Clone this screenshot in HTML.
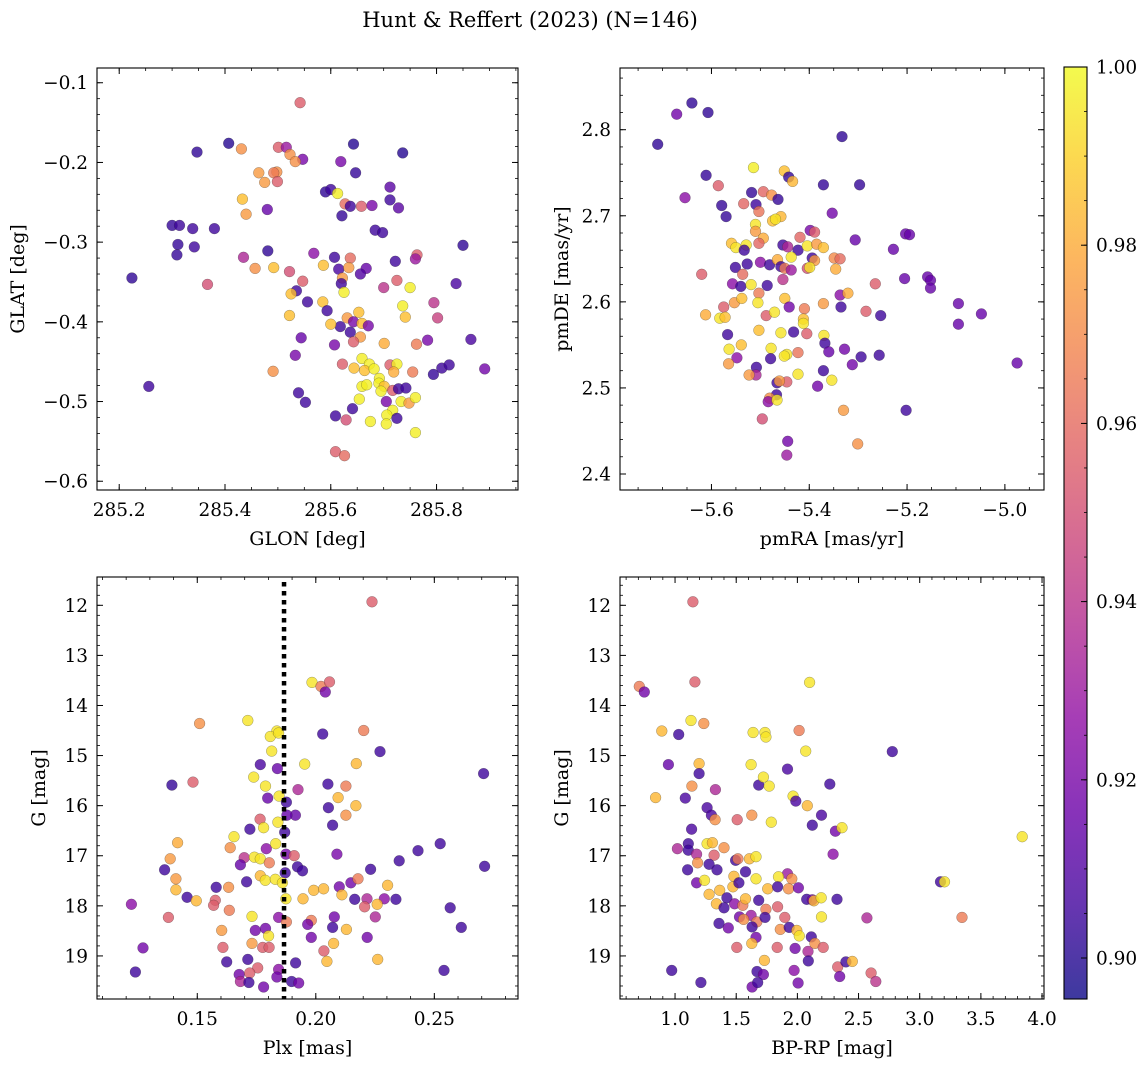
<!DOCTYPE html>
<html><head><meta charset="utf-8"><title>Hunt &amp; Reffert (2023)</title>
<style>
html,body{margin:0;padding:0;background:#fff;}
svg{display:block;font-family:"DejaVu Serif","Liberation Serif",serif;}
</style></head>
<body>
<svg id="fig" width="1148" height="1067" viewBox="0 0 1148 1067" xmlns="http://www.w3.org/2000/svg">
<rect x="0" y="0" width="1148" height="1067" fill="#fff"/>
<text x="530" y="27" font-size="21" text-anchor="middle">Hunt &amp; Reffert (2023) (N=146)</text>
</svg>
<script>
// ---------- Panel 1: GLON vs GLAT ----------
const p1Glon=[285.542,285.407,285.347,285.431,285.501,285.516,285.523,285.547,285.533,285.643,285.736,285.619,285.647,285.464,285.498,285.492,285.475,285.499,285.590,285.600,285.613,285.433,285.712,285.712,285.728,285.627,285.637,285.658,285.678,285.621,285.440,285.480,285.300,285.314,285.339,285.380,285.311,285.342,285.309,285.684,285.698,285.850,285.481,285.435,285.457,285.492,285.522,285.568,285.607,285.637,285.586,285.615,285.634,285.667,285.656,285.622,285.620,285.625,285.547,285.535,285.525,285.556,285.585,285.593,285.522,285.722,285.763,285.760,285.725,285.700,285.750,285.837,285.736,285.741,285.795,285.802,285.631,285.653,285.643,285.659,285.671,285.618,285.600,285.637,285.656,285.643,285.607,285.544,285.533,285.701,285.762,285.783,285.865,285.491,285.256,285.224,285.367,285.622,285.644,285.659,285.673,285.664,285.682,285.712,285.725,285.719,285.755,285.794,285.810,285.824,285.891,285.692,285.659,285.668,285.691,285.701,285.695,285.717,285.728,285.742,285.705,285.733,285.748,285.760,285.539,285.552,285.654,285.641,285.609,285.629,285.675,285.717,285.706,285.725,285.705,285.760,285.609,285.626];
const p1Glat=[-0.125,-0.176,-0.187,-0.183,-0.181,-0.181,-0.190,-0.196,-0.199,-0.177,-0.188,-0.199,-0.213,-0.213,-0.212,-0.213,-0.225,-0.224,-0.237,-0.234,-0.239,-0.246,-0.231,-0.247,-0.257,-0.252,-0.255,-0.255,-0.254,-0.267,-0.265,-0.259,-0.279,-0.279,-0.283,-0.283,-0.303,-0.306,-0.316,-0.285,-0.288,-0.304,-0.311,-0.319,-0.333,-0.332,-0.337,-0.314,-0.319,-0.320,-0.329,-0.334,-0.332,-0.333,-0.340,-0.345,-0.352,-0.363,-0.349,-0.361,-0.365,-0.375,-0.375,-0.386,-0.392,-0.324,-0.316,-0.321,-0.348,-0.357,-0.357,-0.352,-0.380,-0.394,-0.376,-0.395,-0.395,-0.388,-0.400,-0.402,-0.405,-0.406,-0.403,-0.413,-0.419,-0.425,-0.429,-0.420,-0.442,-0.427,-0.428,-0.423,-0.422,-0.462,-0.481,-0.345,-0.353,-0.453,-0.458,-0.446,-0.453,-0.461,-0.459,-0.454,-0.453,-0.463,-0.463,-0.466,-0.458,-0.454,-0.459,-0.471,-0.481,-0.479,-0.477,-0.481,-0.487,-0.486,-0.484,-0.483,-0.500,-0.500,-0.502,-0.495,-0.489,-0.501,-0.497,-0.509,-0.518,-0.523,-0.525,-0.511,-0.517,-0.521,-0.528,-0.539,-0.563,-0.568];
const p1Prob=[.955,.900,.902,.972,.955,.930,.972,.920,.972,.900,.900,.920,.903,.975,.972,.965,.975,.955,.902,.905,.997,.985,.912,.905,.912,.960,.905,.955,.920,.903,.975,.915,.903,.905,.905,.905,.903,.905,.903,.905,.905,.902,.902,.935,.972,.985,.950,.925,.905,.960,.985,.908,.975,.915,.910,.975,.905,.997,.955,.905,.985,.905,.985,.905,.985,.905,.955,.930,.955,.940,.997,.908,.997,.985,.940,.945,.975,.985,.920,.985,.920,.905,.985,.905,.975,.955,.920,.915,.920,.980,.965,.920,.908,.972,.905,.902,.950,.955,.985,.997,.997,.985,.997,.955,.997,.980,.965,.903,.905,.905,.918,.997,.997,.997,.997,.985,.997,.955,.905,.905,.920,.997,.975,.997,.905,.905,.997,.905,.905,.950,.997,.997,.997,.905,.997,.997,.955,.960];
const p1XTicks=[285.2,285.4,285.6,285.8];
const p1XTickLabels=["285.2","285.4","285.6","285.8"];
const p1YTicks=[-0.1,-0.2,-0.3,-0.4,-0.5,-0.6];
const p1YTickLabels=["\u22120.1","\u22120.2","\u22120.3","\u22120.4","\u22120.5","\u22120.6"];

// ---------- Panel 2: pmRA vs pmDE ----------
const p2Pmra=[-5.640,-5.671,-5.607,-5.710,-5.333,-5.514,-5.451,-5.442,-5.434,-5.611,-5.586,-5.371,-5.297,-5.654,-5.518,-5.494,-5.477,-5.464,-5.579,-5.534,-5.509,-5.503,-5.570,-5.353,-5.510,-5.458,-5.475,-5.469,-5.510,-5.494,-5.503,-5.419,-5.398,-5.389,-5.559,-5.550,-5.529,-5.533,-5.454,-5.444,-5.423,-5.404,-5.385,-5.371,-5.437,-5.306,-5.228,-5.203,-5.195,-5.500,-5.481,-5.465,-5.458,-5.450,-5.437,-5.394,-5.389,-5.404,-5.399,-5.349,-5.337,-5.346,-5.551,-5.527,-5.620,-5.536,-5.557,-5.540,-5.519,-5.486,-5.454,-5.205,-5.158,-5.152,-5.152,-5.265,-5.503,-5.337,-5.321,-5.553,-5.538,-5.505,-5.450,-5.575,-5.612,-5.583,-5.572,-5.488,-5.471,-5.441,-5.410,-5.371,-5.335,-5.284,-5.254,-5.412,-5.412,-5.095,-5.048,-5.095,-5.567,-5.503,-5.458,-5.432,-5.405,-5.370,-5.368,-5.360,-5.328,-5.294,-5.257,-5.312,-5.564,-5.539,-5.548,-5.565,-5.478,-5.479,-5.446,-5.451,-5.423,-5.508,-5.509,-5.523,-5.423,-5.371,-5.354,-5.383,-5.466,-5.446,-5.461,-5.467,-5.481,-5.484,-5.466,-5.496,-5.330,-5.202,-4.975,-5.444,-5.446,-5.301];
const p2Pmde=[2.831,2.818,2.820,2.783,2.792,2.756,2.752,2.745,2.740,2.747,2.735,2.736,2.736,2.721,2.727,2.728,2.724,2.719,2.712,2.714,2.713,2.705,2.699,2.703,2.690,2.699,2.694,2.696,2.682,2.674,2.668,2.675,2.683,2.681,2.668,2.663,2.666,2.660,2.666,2.664,2.660,2.665,2.667,2.663,2.652,2.672,2.661,2.679,2.678,2.646,2.643,2.649,2.641,2.639,2.637,2.651,2.648,2.639,2.640,2.651,2.650,2.638,2.640,2.644,2.632,2.632,2.621,2.618,2.620,2.619,2.626,2.627,2.629,2.625,2.616,2.621,2.610,2.608,2.610,2.599,2.604,2.599,2.604,2.594,2.585,2.581,2.582,2.584,2.588,2.594,2.592,2.598,2.594,2.589,2.584,2.580,2.575,2.598,2.586,2.574,2.562,2.567,2.564,2.565,2.563,2.561,2.552,2.542,2.545,2.536,2.538,2.527,2.545,2.550,2.535,2.528,2.546,2.534,2.539,2.537,2.541,2.524,2.515,2.515,2.516,2.520,2.509,2.502,2.506,2.507,2.508,2.492,2.488,2.484,2.486,2.464,2.474,2.474,2.529,2.438,2.422,2.435];
const p2Prob=[.902,.918,.902,.902,.902,.997,.985,.903,.983,.903,.955,.903,.903,.925,.903,.958,.972,.903,.903,.958,.905,.963,.903,.918,.995,.983,.985,.995,.975,.980,.958,.958,.920,.955,.985,.995,.995,.905,.905,.935,.905,.995,.975,.985,.995,.915,.915,.915,.915,.925,.905,.980,.905,.965,.930,.905,.975,.950,.995,.970,.960,.980,.905,.905,.955,.960,.925,.905,.995,.905,.940,.915,.915,.915,.915,.955,.965,.925,.980,.975,.985,.995,.985,.955,.980,.995,.985,.955,.995,.918,.965,.975,.905,.955,.905,.985,.995,.915,.915,.915,.905,.985,.995,.905,.955,.995,.905,.915,.918,.905,.905,.918,.995,.985,.925,.975,.995,.905,.995,.995,.963,.905,.935,.975,.995,.905,.995,.918,.905,.955,.975,.905,.972,.925,.995,.950,.975,.905,.915,.918,.930,.972];
const p2XTicks=[-5.6,-5.4,-5.2,-5.0];
const p2XTickLabels=["\u22125.6","\u22125.4","\u22125.2","\u22125.0"];
const p2YTicks=[2.4,2.5,2.6,2.7,2.8];
const p2YTickLabels=["2.4","2.5","2.6","2.7","2.8"];

// ---------- Panel 3: Plx vs G ----------
const p3Plx=[0.2237,0.1984,0.2022,0.2058,0.2040,0.1713,0.1510,0.1836,0.1808,0.1843,0.2029,0.2202,0.1814,0.2271,0.1766,0.1838,0.1953,0.2171,0.2708,0.1393,0.1482,0.1738,0.1788,0.1925,0.2051,0.2127,0.1797,0.1845,0.1876,0.2094,0.2169,0.2053,0.2127,0.1914,0.1878,0.1765,0.1840,0.2071,0.1722,0.1780,0.1869,0.1655,0.1417,0.1639,0.1791,0.1831,0.1386,0.1698,0.1741,0.1766,0.1804,0.1874,0.1909,0.2089,0.1362,0.1682,0.1923,0.1944,0.1871,0.2352,0.2431,0.2525,0.2712,0.2231,0.1410,0.1708,0.1766,0.1787,0.1829,0.1859,0.1410,0.1580,0.1632,0.1991,0.2033,0.2099,0.2110,0.2148,0.2178,0.2303,0.1457,0.1496,0.1576,0.1569,0.1874,0.1946,0.2164,0.2216,0.2289,0.2338,0.2206,0.2259,0.2251,0.1222,0.1635,0.2567,0.1378,0.1731,0.1843,0.1876,0.1981,0.1966,0.2078,0.2071,0.1603,0.1745,0.1788,0.1801,0.2129,0.2614,0.1271,0.1608,0.1731,0.1776,0.1803,0.1981,0.2075,0.2034,0.2217,0.2261,0.2047,0.1239,0.1624,0.1713,0.1755,0.1915,0.2541,0.1677,0.1721,0.1843,0.1836,0.1682,0.1718,0.1780,0.1898,0.1928];
const p3G=[11.93,13.54,13.62,13.53,13.73,14.30,14.36,14.51,14.62,14.55,14.57,14.50,14.91,14.92,15.18,15.26,15.17,15.16,15.36,15.59,15.53,15.43,15.61,15.68,15.57,15.61,15.85,15.81,15.93,15.84,16.00,16.04,16.19,16.19,16.19,16.27,16.33,16.39,16.47,16.44,16.53,16.62,16.74,16.84,16.86,16.76,17.06,17.04,17.03,17.06,17.14,16.97,17.00,16.97,17.28,17.18,17.22,17.30,17.34,17.10,16.90,16.76,17.21,17.27,17.46,17.52,17.40,17.49,17.47,17.54,17.68,17.63,17.63,17.69,17.66,17.62,17.78,17.54,17.46,17.59,17.83,17.90,17.89,17.99,17.86,17.86,17.87,17.86,17.86,17.87,18.02,17.97,18.22,17.97,18.09,18.04,18.23,18.21,18.23,18.32,18.29,18.37,18.22,18.43,18.49,18.49,18.45,18.60,18.47,18.43,18.84,18.83,18.75,18.83,18.83,18.63,18.75,18.90,18.63,19.07,19.11,19.32,19.12,19.07,19.24,19.14,19.29,19.37,19.34,19.27,19.42,19.51,19.53,19.62,19.51,19.54];
const p3Prob=[.955,.995,.965,.955,.918,.995,.972,.995,.995,.995,.905,.965,.995,.905,.908,.915,.995,.983,.905,.903,.955,.995,.995,.935,.905,.965,.915,.995,.905,.983,.983,.905,.972,.915,.915,.955,.995,.905,.905,.995,.905,.995,.980,.972,.925,.995,.975,.940,.995,.995,.965,.920,.955,.920,.905,.915,.905,.905,.905,.905,.905,.905,.905,.905,.975,.905,.983,.995,.995,.995,.983,.905,.972,.983,.983,.918,.983,.918,.965,.983,.905,.983,.955,.955,.995,.983,.905,.935,.925,.905,.955,.983,.935,.925,.965,.905,.955,.995,.925,.965,.965,.918,.918,.905,.975,.918,.918,.995,.983,.905,.918,.955,.975,.955,.955,.918,.983,.955,.918,.983,.983,.905,.905,.905,.955,.905,.905,.918,.955,.925,.918,.935,.905,.918,.905,.918];
const p3XTicks=[0.15,0.20,0.25];
const p3XTickLabels=["0.15","0.20","0.25"];
const p3YTicks=[12,13,14,15,16,17,18,19];
const p3YTickLabels=["12","13","14","15","16","17","18","19"];
const p3PlxLine=[0.1866];

// ---------- Panel 4: BP-RP vs G ----------
const p4Bprp=[1.146,0.708,0.749,1.162,2.100,1.130,1.235,0.892,1.030,1.638,1.735,1.743,2.014,2.068,2.776,0.946,1.197,1.197,1.622,1.919,1.138,1.330,1.684,1.722,1.770,2.265,0.841,1.084,1.965,1.987,2.081,1.262,1.297,1.327,1.508,1.627,1.787,2.197,2.122,1.135,2.311,2.365,3.838,1.019,1.108,1.108,1.262,1.305,1.400,1.176,1.319,2.292,1.103,1.184,1.278,1.343,1.495,1.514,1.608,1.662,1.176,1.241,1.576,1.481,1.662,1.919,1.846,1.954,1.278,1.365,1.473,1.522,1.757,1.838,1.927,2.008,1.424,1.338,1.400,1.487,1.554,1.576,1.684,1.743,1.838,2.076,2.122,2.135,2.195,2.324,2.197,2.568,3.346,3.170,3.203,1.359,1.435,1.527,1.622,1.560,1.668,1.735,1.630,1.897,1.860,1.933,1.995,2.016,1.662,1.627,1.505,1.835,1.981,2.114,2.087,2.143,2.211,2.089,1.730,0.973,1.211,1.670,1.722,1.630,1.676,1.973,2.006,2.330,2.346,2.397,2.449,2.603,2.641];
const p4G=[11.93,13.62,13.73,13.53,13.54,14.30,14.36,14.51,14.58,14.54,14.54,14.63,14.50,14.91,14.92,15.18,15.16,15.36,15.18,15.27,15.61,15.68,15.59,15.43,15.61,15.57,15.84,15.85,15.81,15.91,16.00,16.04,16.19,16.28,16.28,16.19,16.33,16.19,16.39,16.47,16.51,16.44,16.62,16.86,16.76,16.89,16.76,16.74,16.84,16.97,16.99,16.97,17.28,17.14,17.17,17.28,17.09,17.06,17.06,17.02,17.54,17.49,17.32,17.41,17.46,17.36,17.42,17.46,17.77,17.69,17.62,17.54,17.66,17.62,17.66,17.64,17.84,17.96,18.04,17.96,17.99,17.86,17.89,18.07,18.02,17.87,17.88,17.90,17.84,17.87,18.22,18.24,18.23,17.52,17.52,18.35,18.44,18.22,18.19,18.27,18.32,18.23,18.42,18.23,18.47,18.43,18.49,18.60,18.63,18.75,18.83,18.83,18.85,18.62,18.91,18.75,18.83,19.10,19.09,19.29,19.53,19.31,19.37,19.62,19.53,19.29,19.54,19.22,19.41,19.12,19.11,19.34,19.51];
const p4Prob=[.955,.965,.918,.955,.995,.995,.972,.983,.905,.995,.995,.995,.965,.995,.905,.915,.983,.905,.995,.908,.972,.935,.905,.995,.995,.905,.983,.908,.995,.908,.983,.908,.908,.972,.955,.972,.995,.908,.905,.908,.918,.995,.995,.935,.905,.905,.995,.983,.972,.935,.955,.925,.905,.972,.905,.905,.905,.965,.983,.995,.918,.995,.905,.983,.995,.930,.995,.972,.983,.983,.983,.905,.983,.905,.972,.918,.905,.983,.905,.925,.965,.983,.905,.965,.955,.905,.918,.983,.995,.905,.995,.935,.965,.905,.995,.905,.918,.918,.930,.972,.965,.905,.905,.955,.972,.905,.983,.995,.918,.983,.955,.955,.918,.905,.935,.972,.955,.905,.983,.905,.905,.905,.918,.918,.905,.925,.918,.955,.918,.905,.983,.955,.940];
const p4XTicks=[1.0,1.5,2.0,2.5,3.0,3.5,4.0];
const p4XTickLabels=["1.0","1.5","2.0","2.5","3.0","3.5","4.0"];
const p4YTicks=[12,13,14,15,16,17,18,19];
const p4YTickLabels=["12","13","14","15","16","17","18","19"];

// ---------- Colorbar ----------
const cbarTicks=[0.90,0.92,0.94,0.96,0.98,1.00];
const cbarTickLabels=["0.90","0.92","0.94","0.96","0.98","1.00"];
const cbarRange=[0.8954,1.0];

const NS="http://www.w3.org/2000/svg";
const svg=document.getElementById('fig');
function mk(tag,attrs,parent){const e=document.createElementNS(NS,tag);for(const k in attrs)e.setAttribute(k,attrs[k]);(parent||svg).appendChild(e);return e;}
const plasma=[[13,8,135],[65,4,157],[106,0,168],[143,13,164],[177,42,144],[204,71,120],[225,100,98],[242,132,75],[252,166,54],[252,206,37],[240,249,33]];
function cmapT(t){t=Math.max(0,Math.min(1,t));const f=t*10;const i=Math.min(9,Math.floor(f));const u=f-i;const a=plasma[i],b=plasma[i+1];return 'rgb('+[0,1,2].map(k=>Math.round(a[k]+(b[k]-a[k])*u)).join(',')+')';}
function cmap(v){return cmapT((v-cbarRange[0])/(cbarRange[1]-cbarRange[0]));}
function lin(d0,d1,r0,r1){return v=>r0+(v-d0)/(d1-d0)*(r1-r0);}
const TF=18.5, LF=19;

function panel(cfg){
  const g=mk('g',{});
  
  
  const sx=lin(cfg.xd[0],cfg.xd[1],cfg.L,cfg.R);
  const sy=lin(cfg.yd[0],cfg.yd[1],cfg.T,cfg.B);
  const pts=mk('g',{},g);
  
  
  for(let i=0;i<cfg.xs.length;i++){
    const c=mk('circle',{cx:sx(cfg.xs[i]).toFixed(1),cy:sy(cfg.ys[i]).toFixed(1),r:5.4,fill:cmap(cfg.cs[i]),'fill-opacity':0.8,stroke:'rgba(40,40,40,0.45)','stroke-width':0.5},pts);
    
    
  }
  if(cfg.vline){
    for(const v of cfg.vline){
      const l=mk('line',{x1:sx(v),x2:sx(v),y1:cfg.T+5,y2:cfg.B,stroke:'#000','stroke-width':4.5,'stroke-dasharray':'4.5 4.5'},g);
      
      
    }
  }
  const fr=mk('rect',{x:cfg.L,y:cfg.T,width:cfg.R-cfg.L,height:cfg.B-cfg.T,fill:'none',stroke:'#000','stroke-width':1.1},g);
  
  
  const lo=Math.min(cfg.xd[0],cfg.xd[1]),hi=Math.max(cfg.xd[0],cfg.xd[1]);
  for(let v=Math.ceil(lo/cfg.xminor)*cfg.xminor;v<=hi;v+=cfg.xminor){const x=sx(v);mk('line',{x1:x,x2:x,y1:cfg.B,y2:cfg.B-3,stroke:'#000','stroke-width':0.8},g);mk('line',{x1:x,x2:x,y1:cfg.T,y2:cfg.T+3,stroke:'#000','stroke-width':0.8},g);}
  const ylo=Math.min(cfg.yd[0],cfg.yd[1]),yhi=Math.max(cfg.yd[0],cfg.yd[1]);
  for(let v=Math.ceil(ylo/cfg.yminor)*cfg.yminor;v<=yhi;v+=cfg.yminor){const y=sy(v);mk('line',{x1:cfg.L,x2:cfg.L+3,y1:y,y2:y,stroke:'#000','stroke-width':0.8},g);mk('line',{x1:cfg.R,x2:cfg.R-3,y1:y,y2:y,stroke:'#000','stroke-width':0.8},g);}
  cfg.xt.forEach((v,i)=>{const x=sx(v);
    mk('line',{x1:x,x2:x,y1:cfg.B,y2:cfg.B-6,stroke:'#000','stroke-width':1},g);
    mk('line',{x1:x,x2:x,y1:cfg.T,y2:cfg.T+6,stroke:'#000','stroke-width':1},g);
    const t=mk('text',{x:x,y:cfg.B+26,'font-size':TF,'text-anchor':'middle'},g);t.textContent=cfg.xtl[i];
    
    
  });
  cfg.yt.forEach((v,i)=>{const y=sy(v);
    mk('line',{x1:cfg.L,x2:cfg.L+6,y1:y,y2:y,stroke:'#000','stroke-width':1},g);
    mk('line',{x1:cfg.R,x2:cfg.R-6,y1:y,y2:y,stroke:'#000','stroke-width':1},g);
    const t=mk('text',{x:cfg.L-9,y:y+6.5,'font-size':TF,'text-anchor':'end'},g);t.textContent=cfg.ytl[i];
    
    
  });
  const xl=mk('text',{x:(cfg.L+cfg.R)/2,y:cfg.B+55,'font-size':LF,'text-anchor':'middle'},g);xl.textContent=cfg.xlabel;
  
  
  const yx=cfg.L-cfg.ylabOff, ym=(cfg.T+cfg.B)/2;
  const yl=mk('text',{x:yx,y:ym,'font-size':LF,'text-anchor':'middle',transform:'rotate(-90 '+yx+' '+ym+')'},g);yl.textContent=cfg.ylabel;
  
  
}

panel({name:'glon-glat-panel',L:97,R:518,T:68,B:490,xd:[285.158,285.954],yd:[-0.0815,-0.611],xs:p1Glon,ys:p1Glat,cs:p1Prob,xt:p1XTicks,xtl:p1XTickLabels,yt:p1YTicks,ytl:p1YTickLabels,xminor:0.05,yminor:0.02,xlabel:'GLON [deg]',ylabel:'GLAT [deg]',ylabOff:73});
panel({name:'pm-panel',L:620,R:1044,T:68,B:490,xd:[-5.787,-4.920],yd:[2.8717,2.3814],xs:p2Pmra,ys:p2Pmde,cs:p2Prob,xt:p2XTicks,xtl:p2XTickLabels,yt:p2YTicks,ytl:p2YTickLabels,xminor:0.05,yminor:0.02,xlabel:'pmRA [mas/yr]',ylabel:'pmDE [mas/yr]',ylabOff:52});
panel({name:'plx-g-panel',L:97,R:518,T:577,B:999,xd:[0.1077,0.2853],yd:[11.435,19.86],xs:p3Plx,ys:p3G,cs:p3Prob,xt:p3XTicks,xtl:p3XTickLabels,yt:p3YTicks,ytl:p3YTickLabels,xminor:0.01,yminor:0.2,xlabel:'Plx [mas]',ylabel:'G [mag]',ylabOff:52,vline:p3PlxLine});
panel({name:'cmd-panel',L:620,R:1044,T:577,B:999,xd:[0.550,4.016],yd:[11.435,19.86],xs:p4Bprp,ys:p4G,cs:p4Prob,xt:p4XTicks,xtl:p4XTickLabels,yt:p4YTicks,ytl:p4YTickLabels,xminor:0.1,yminor:0.2,xlabel:'BP-RP [mag]',ylabel:'G [mag]',ylabOff:52});

(function(){
  const CX=1064,CW=23,CT=67,CB=999;
  const g=mk('g',{});
  
  
  const defs=mk('defs',{},g);
  const lg=mk('linearGradient',{id:'cbg',x1:0,y1:1,x2:0,y2:0},defs);
  for(let i=0;i<=20;i++){mk('stop',{offset:(i/20),'stop-color':cmapT(i/20),'stop-opacity':0.8},lg);}
  const r=mk('rect',{x:CX,y:CT,width:CW,height:CB-CT,fill:'url(#cbg)',stroke:'#000','stroke-width':1.1},g);
  
  
  const sy=lin(cbarRange[0],cbarRange[1],CB,CT);
  for(let v=0.9;v<1.0001;v+=0.005){const y=sy(v);mk('line',{x1:CX+CW,x2:CX+CW-3,y1:y,y2:y,stroke:'#000','stroke-width':0.8},g);}
  cbarTicks.forEach((v,i)=>{const y=sy(v);
    mk('line',{x1:CX+CW,x2:CX+CW-6,y1:y,y2:y,stroke:'#000','stroke-width':1},g);
    const t=mk('text',{x:CX+CW+9,y:y+6.5,'font-size':TF},g);t.textContent=cbarTickLabels[i];
    
    
  });
})();
</script>
</body></html>
